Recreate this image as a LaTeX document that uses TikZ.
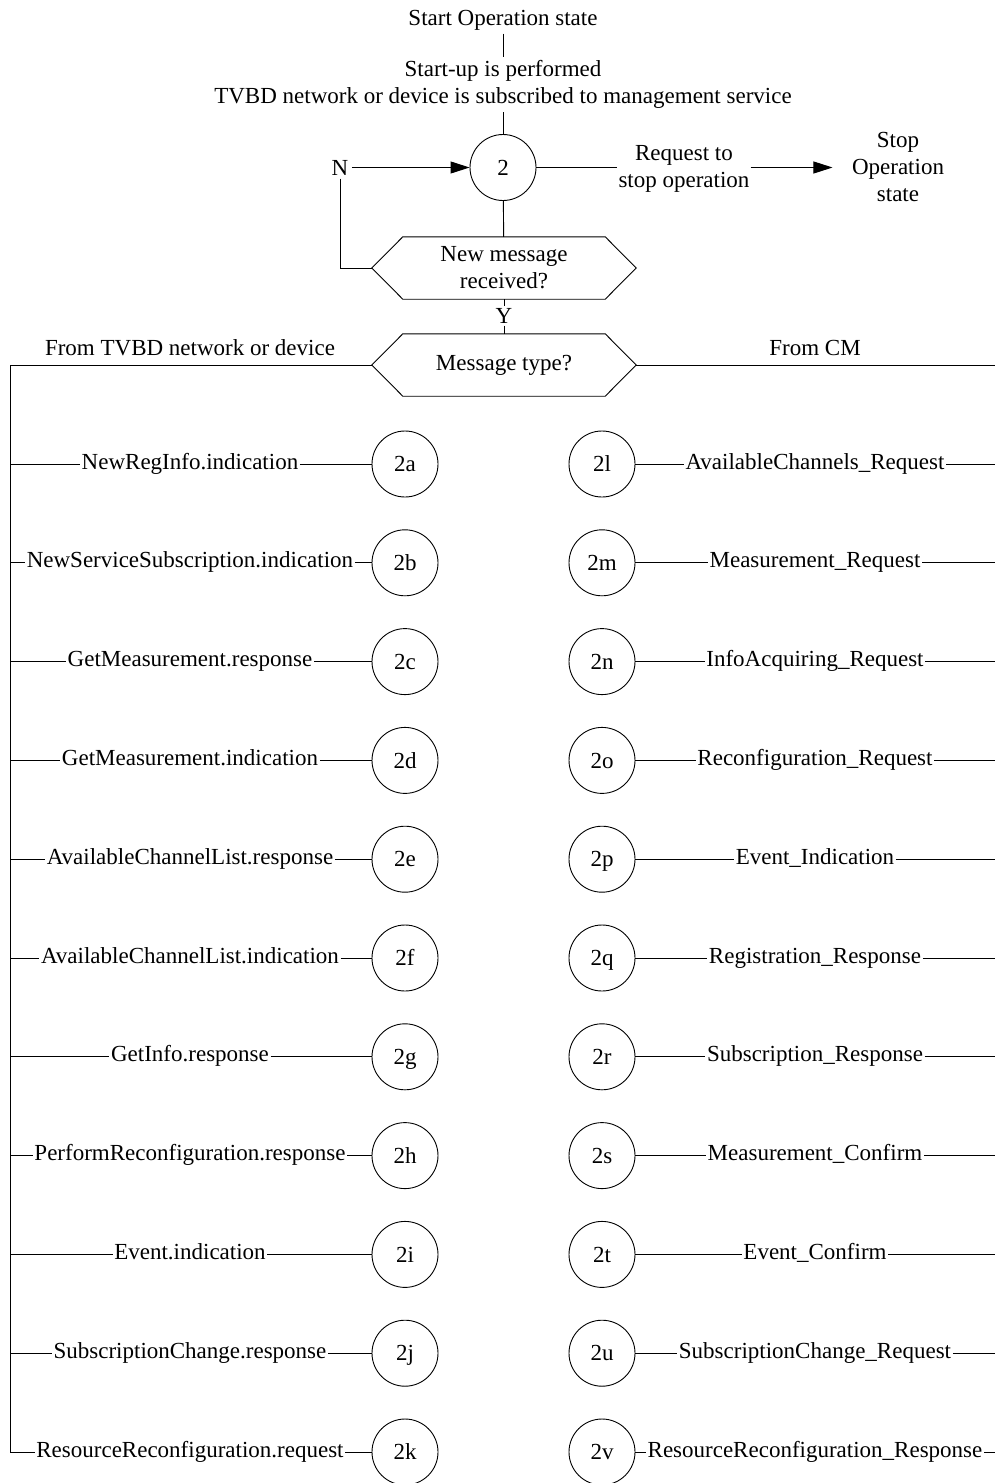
\documentclass[tikz,border=0pt]{standalone}
\usepackage{fontspec}
\setmainfont{Liberation Serif}
\usetikzlibrary{arrows.meta}
\begin{document}
\begin{tikzpicture}[x=1pt,y=-1pt,
  every node/.style={font=\fontsize{23}{27}\selectfont},
  line/.style={line width=0.9pt},
  arr/.style={line width=0.9pt, -{Triangle[length=19pt,width=12pt]}},
  state/.style={circle, draw, line width=0.9pt, minimum size=66pt, inner sep=0pt,
    text height=15.5pt, text depth=0pt},
  msg/.style={inner xsep=1.5pt, inner ysep=0pt, text height=15pt, text depth=5pt},
  hexnode/.style={minimum width=264pt, minimum height=62pt, inner sep=0pt, align=center},
]
\useasboundingbox (0,0) rectangle (995,1483);

% start of the operation state
\node (start) at (503,20) {Start Operation state};
\node[align=center] (startup) at (503,84.5) {Start-up is performed\\TVBD network or device is subscribed to management service};
\node[state] (c2) at (503,167.5) {2};
\node (N) at (340,167.5) {N};
\node[align=center, inner xsep=1pt] (req) at (684,169) {Request to\\stop operation};
\node[align=center] (stop) at (898,167) {Stop\\Operation\\state};

% decision hexagons
\node[hexnode] (hexA) at (504,268) {New message\\received?};
\node[inner sep=2pt] (Y) at (504,316) {Y};
\node[hexnode] (hexB) at (504,365) {Message type?};
\foreach \h in {hexA,hexB}
  \draw[line] (\h.west) -- ([xshift=31pt]\h.north west) -- ([xshift=-31pt]\h.north east)
    -- (\h.east) -- ([xshift=-31pt]\h.south east) -- ([xshift=31pt]\h.south west) -- cycle;

\draw[line] (start) -- (startup);
\draw[line] (startup) -- (c2);
\draw[arr] (N) -- (c2);
\draw[line] (c2) -- (c2 -| req.west);
\draw[arr, shorten >=16pt] (c2 -| req.east) -- (c2 -| stop.west);
\draw[line] (c2) -- (hexA);
\draw[line] (N.south) |- (hexA.west);
\draw[line] (hexA) -- (Y);
\draw[line] (Y) -- (hexB);

% message sources
\coordinate (lt) at (10,365);
\coordinate (rt) at (995,365);
\node (fromL) at (190,348) {From TVBD network or device};
\node (fromR) at (815,348) {From CM};
\draw[line] (hexB.east) -- (rt);

% messages from the TVBD network or device
\foreach \id/\txt [count=\i from 0] in {
  2a/NewRegInfo.indication,
  2b/NewServiceSubscription.indication,
  2c/GetMeasurement.response,
  2d/GetMeasurement.indication,
  2e/AvailableChannelList.response,
  2f/AvailableChannelList.indication,
  2g/GetInfo.response,
  2h/PerformReconfiguration.response,
  2i/Event.indication,
  2j/SubscriptionChange.response,
  2k/ResourceReconfiguration.request}{
  \node[state] (c\id) at (405,{464+98.8*\i}) {\id};
  \node[msg] (l\id) at (190,{464+98.8*\i}) {\txt};
  \draw[line] (lt |- l\id) -- (l\id) -- (c\id);
}
\draw[line] (hexB.west) -- (lt) -- (lt |- l2k);

% messages from the CM
\foreach \id/\txt [count=\i from 0] in {
  2l/AvailableChannels\_Request,
  2m/Measurement\_Request,
  2n/InfoAcquiring\_Request,
  2o/Reconfiguration\_Request,
  2p/Event\_Indication,
  2q/Registration\_Response,
  2r/Subscription\_Response,
  2s/Measurement\_Confirm,
  2t/Event\_Confirm,
  2u/SubscriptionChange\_Request,
  2v/ResourceReconfiguration\_Response}{
  \node[state] (c\id) at (602,{464+98.8*\i}) {\id};
  \node[msg] (r\id) at (815,{464+98.8*\i}) {\txt};
  \draw[line] (c\id) -- (r\id) -- (rt |- r\id);
}
\end{tikzpicture}
\end{document}
